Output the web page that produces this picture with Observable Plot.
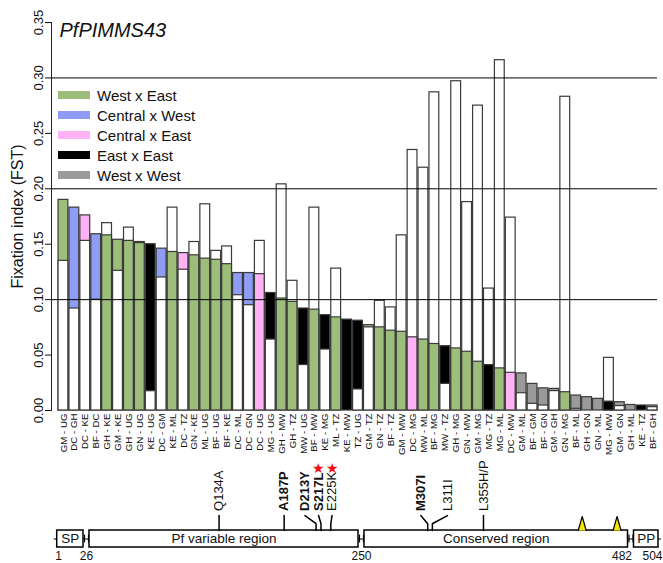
<!DOCTYPE html>
<html><head><meta charset="utf-8">
<script src="https://cdn.jsdelivr.net/npm/d3@7"></script>
<script src="https://cdn.jsdelivr.net/npm/@observablehq/plot@0.6"></script>
<style>
body{margin:0;background:#fff;font-family:Arial,"Liberation Sans",sans-serif;}
#wrap{position:relative;width:663px;height:563px;overflow:hidden;background:#fff;}
#top{position:absolute;left:0;top:0;}
#bottom{position:absolute;left:0;top:453px;}
#legend{position:absolute;left:58px;top:85px;font-size:15px;color:#111;}
.row{display:flex;align-items:center;height:20px;}
.sw{width:32px;height:8px;margin-right:7px;}
</style></head><body><div id="wrap"><div id="top"></div><div id="bottom"></div><div id="legend"></div></div>
<script>
// ---------- data ----------
const title = "PfPIMMS43";
const yTitle = "Fixation index (FST)";
const groups = ["West x East", "Central x West", "Central x East", "East x East", "West x West"];
const groupColours = ["#9dbe7b", "#8f9cf6", "#ffb3f4", "#000000", "#9a9a9a"];
const pairs = ["GM - UG","DC - GH","DC - KE","BF - DC","GH - KE","GM - KE","GH - UG","GN - UG","KE - UG","DC - GM",
  "KE - ML","DC - TZ","GN - KE","ML - UG","BF - UG","BF - KE","DC - ML","DC - GN","DC - UG","MG - UG",
  "GH - MW","GH - TZ","MW - UG","BF - MW","KE - MG","ML - TZ","KE - MW","TZ - UG","GM - TZ","GN - TZ",
  "BF - TZ","GM - MW","DC - MG","MW - ML","BF - MG","MW - TZ","GH - MG","GN - MW","GM - MG","MG - TZ",
  "MG - ML","DC - MW","GM - ML","BF - GM","BF - GN","GM - GH","GN - MG","BF - ML","GH - GN","GN - ML",
  "MG - MW","GM - GN","GH - ML","KE - TZ","BF - GH"];
const pairGroup = ["West x East","Central x West","Central x East","Central x West","West x East","West x East","West x East","West x East","East x East","Central x West",
  "West x East","Central x East","West x East","West x East","West x East","West x East","Central x West","Central x West","Central x East","East x East",
  "West x East","West x East","East x East","West x East","East x East","West x East","East x East","East x East","West x East","West x East",
  "West x East","West x East","Central x East","West x East","West x East","East x East","West x East","West x East","West x East","East x East",
  "West x East","Central x East","West x West","West x West","West x West","West x West","West x East","West x West","West x West","West x West",
  "East x East","West x West","West x West","East x East","West x West"];
const colouredFst = [0.190,0.183,0.176,0.159,0.158,0.154,0.153,0.151,0.150,0.146,
  0.143,0.142,0.140,0.137,0.136,0.132,0.124,0.124,0.123,0.106,
  0.101,0.098,0.092,0.091,0.086,0.084,0.082,0.081,0.077,0.075,
  0.072,0.071,0.066,0.064,0.060,0.058,0.056,0.053,0.044,0.041,
  0.038,0.034,0.0335,0.024,0.020,0.0195,0.0165,0.0135,0.012,0.0105,
  0.008,0.0075,0.005,0.0045,0.0045];
const whiteFst = [0.135,0.092,0.153,0.100,0.169,0.126,0.165,0.152,0.0174,0.120,
  0.183,0.127,0.152,0.186,0.144,0.148,0.104,0.095,0.153,0.064,
  0.204,0.117,0.041,0.183,0.055,0.128,0.0,0.019,0.075,0.099,
  0.093,0.158,0.235,0.219,0.287,0.024,0.297,0.188,0.275,0.110,
  0.316,0.174,0.0156,0.006,0.0045,0.0175,0.283,0.0015,0.0,0.0,
  0.0475,0.004,0.0,0.0,0.003];
const yTicks = [0, 0.05, 0.10, 0.15, 0.20, 0.25, 0.30, 0.35];
const refLines = [0.10, 0.20, 0.30];

// protein schematic
const proteinDomains = [
  {name: "SP", start: 1, end: 26},
  {name: "Pf variable region", start: 26, end: 250},
  {name: "Conserved region", start: 250, end: 482},
  {name: "PP", start: 482, end: 504}
];
const junctions = [26, 250, 482];
const positionTicksStart = [1];
const positionTicksMid = [26, 250];
const positionTicksEnd = [482, 504];
const mutations = [
  {label: "Q134A", pos: 134, labelPos: 134, bold: false, star: false},
  {label: "A187P", pos: 187, labelPos: 187, bold: true, star: false},
  {label: "D213Y", pos: 213, labelPos: 204, bold: true, star: false},
  {label: "S217L", pos: 217, labelPos: 215, bold: true, star: true},
  {label: "E225K", pos: 225, labelPos: 226, bold: false, star: true},
  {label: "M307I", pos: 307, labelPos: 301, bold: true, star: false},
  {label: "L311I", pos: 311, labelPos: 324, bold: false, star: false},
  {label: "L355H/P", pos: 355, labelPos: 355, bold: false, star: false}
];
const triangleSites = [440, 470];

// ---------- chart ----------
const font = "Arial, 'Liberation Sans', sans-serif";
const colourOf = g => groupColours[groups.indexOf(g)];
const rows = pairs.map((p, i) => ({pair: p, group: pairGroup[i], col: colouredFst[i], white: whiteFst[i]}));

const chart = Plot.plot({
  width: 663, height: 462,
  marginLeft: 51, marginRight: 6, marginTop: 22, marginBottom: 52,
  style: {fontFamily: font, background: "white", color: "#111"},
  x: {domain: pairs, range: [57.5, 657.5], paddingInner: 0.1, paddingOuter: 0.05, axis: null},
  y: {domain: [0, 0.35], axis: null},
  marks: [
    Plot.barY(rows, {x: "pair", y: d => Math.max(d.col, d.white),
      fill: d => d.white > d.col ? "white" : colourOf(d.group), stroke: "#3a3a3a", strokeWidth: 1.2}),
    Plot.barY(rows, {x: "pair", y: d => Math.min(d.col, d.white),
      fill: d => d.white > d.col ? colourOf(d.group) : "white", stroke: "#3a3a3a", strokeWidth: 1.2}),
    Plot.ruleY(refLines, {stroke: "black", strokeWidth: 1}),
    Plot.frame({anchor: "left", stroke: "#222"}),
    Plot.axisY({ticks: yTicks, tickFormat: d3.format(".2f"), tickRotate: -90, fontSize: 13, tickSize: 6, tickPadding: 3, label: null}),
    Plot.axisX({tickRotate: -90, tickSize: 0, tickPadding: 3, fontSize: 9.7, label: null}),
    Plot.text([yTitle], {frameAnchor: "left", rotate: -90, textAnchor: "middle", dx: -34, fontSize: 16}),
    Plot.text([title], {frameAnchor: "top-left", dx: 8, dy: 0, fontSize: 20, fontStyle: "italic"})
  ]
});
document.getElementById("top").appendChild(chart);

// legend
const lg = document.getElementById("legend");
groups.forEach((g, i) => {
  const r = document.createElement("div"); r.className = "row";
  r.innerHTML = `<div class="sw" style="background:${groupColours[i]}"></div><span>${g}</span>`;
  lg.appendChild(r);
});

// ---------- protein schematic ----------
const linePts = mutations.flatMap(m => [
  {label: m.label, x: m.pos, y: 1},
  {label: m.label, x: m.pos, y: 1.4},
  {label: m.label, x: m.labelPos, y: 1.88}
]);
const schematic = Plot.plot({
  width: 663, height: 110,
  marginLeft: 0, marginRight: 0, marginTop: 0, marginBottom: 0,
  style: {fontFamily: font, background: "none", color: "#111"},
  x: {type: "linear", domain: [1, 26, 250, 482, 504], range: [53.7, 86, 361, 630.5, 661], axis: null},
  y: {domain: [-0.94, 5.53], axis: null},
  marks: [
    Plot.ruleY([0.5], {x1: 1, x2: 504, stroke: "black", strokeWidth: 1.2}),
    Plot.ruleX(junctions, {x: d => d, y1: 0.27, y2: 0.73, dx: -2, stroke: "black", strokeWidth: 1.2}),
    Plot.ruleX(junctions, {x: d => d, y1: 0.27, y2: 0.73, dx: 2, stroke: "black", strokeWidth: 1.2}),
    Plot.rect(proteinDomains, {x1: "start", x2: "end", y1: 0, y2: 1, insetLeft: 3, insetRight: 3,
      fill: "white", stroke: "black", strokeWidth: 1.5}),
    Plot.text(proteinDomains, {x: d => (d.start + d.end) / 2, y: 0.5, text: "name", fontSize: 13.5}),
    Plot.line(linePts, {x: "x", y: "y", z: "label", stroke: "black", strokeWidth: 1.5}),
    Plot.text(mutations.filter(m => m.bold), {x: "labelPos", y: 2.15, text: "label", rotate: -90,
      textAnchor: "start", fontSize: 13, fontWeight: "bold"}),
    Plot.text(mutations.filter(m => !m.bold), {x: "labelPos", y: 2.15, text: "label", rotate: -90,
      textAnchor: "start", fontSize: 13}),
    Plot.text(mutations.filter(m => m.star), {x: "labelPos", y: 4.65, text: () => "★", fill: "#ee1111", fontSize: 14}),
    Plot.vector(triangleSites, {x: d => d, y: 1, length: 14, r: 4, shape: "spike", anchor: "start",
      fill: "#f2e600", stroke: "black", strokeWidth: 1.2}),
    Plot.text(positionTicksStart, {x: d => d, y: -0.5, text: d => String(d), textAnchor: "start", dx: 1, fontSize: 12}),
    Plot.text(positionTicksMid, {x: d => d, y: -0.5, text: d => String(d), fontSize: 12}),
    Plot.text(positionTicksEnd, {x: d => d, y: -0.5, text: d => String(d), textAnchor: "end", dx: 1, fontSize: 12})
  ]
});
document.getElementById("bottom").appendChild(schematic);
</script></body></html>
